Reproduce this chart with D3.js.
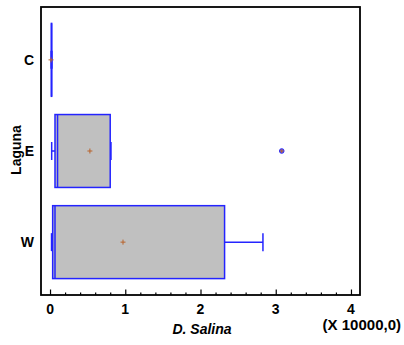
<!DOCTYPE html>
<html>
<head>
<meta charset="utf-8">
<script src="https://cdn.jsdelivr.net/npm/d3@7"></script>
<style>
  html, body { margin: 0; padding: 0; background: #fff; }
  svg { display: block; font-family: "Liberation Sans", Arial, sans-serif; }
</style>
</head>
<body>
<svg id="chart" width="404" height="345"></svg>
<script>
// Box-and-whisker summary of D. Salina counts (x 10000) per lagoon
const categories = ["C", "E", "W"];
const whiskerLow = [0.015, 0.022, 0.02];
const quartile1 = [0.018, 0.066, 0.035];
const medians = [0.02, 0.10, 0.066];
const quartile3 = [0.022, 0.80, 2.32];
const whiskerHigh = [0.025, 0.81, 2.83];
const means = [0.013, 0.53, 0.97];
const outliers = [[], [3.08], []];
const xTicks = [0, 1, 2, 3, 4];

const plot = { left: 41, right: 360, top: 7, bottom: 295 };
const blue = "#2424ff";
const meanColor = "#b8622a";

const svg = d3.select("#chart");

const x = d3.scaleLinear().domain([-0.12, 4.12]).range([plot.left, plot.right]);
const y = d3.scalePoint().domain(categories).range([plot.top, plot.bottom]).padding(0.58);
const boxH = y.step() * 0.8;
const capH = 18;

const rows = categories.map((c, i) => ({
  cat: c, lo: whiskerLow[i], q1: quartile1[i], med: medians[i],
  q3: quartile3[i], hi: whiskerHigh[i], mean: means[i], out: outliers[i]
}));

const g = svg.append("g");

// whiskers
rows.forEach(d => {
  const cy = y(d.cat);
  g.append("line").attr("x1", x(d.lo)).attr("x2", x(d.q1)).attr("y1", cy).attr("y2", cy)
    .attr("stroke", blue).attr("stroke-width", 1.5);
  g.append("line").attr("x1", x(d.q3)).attr("x2", x(d.hi)).attr("y1", cy).attr("y2", cy)
    .attr("stroke", blue).attr("stroke-width", 1.5);
  [d.lo, d.hi].forEach(v => {
    g.append("line").attr("x1", x(v)).attr("x2", x(v))
      .attr("y1", cy - capH / 2).attr("y2", cy + capH / 2)
      .attr("stroke", blue).attr("stroke-width", 1.5);
  });
});

// boxes
g.selectAll("rect.box").data(rows).join("rect")
  .attr("class", "box")
  .attr("x", d => x(d.q1))
  .attr("y", d => y(d.cat) - boxH / 2)
  .attr("width", d => Math.max(0, x(d.q3) - x(d.q1)))
  .attr("height", boxH)
  .attr("fill", "#c0c0c0")
  .attr("stroke", blue)
  .attr("stroke-width", 1.5);

// medians
g.selectAll("line.med").data(rows).join("line")
  .attr("class", "med")
  .attr("x1", d => x(d.med)).attr("x2", d => x(d.med))
  .attr("y1", d => y(d.cat) - boxH / 2).attr("y2", d => y(d.cat) + boxH / 2)
  .attr("stroke", blue).attr("stroke-width", 1.5);

// outliers
rows.forEach(d => {
  d.out.forEach(v => {
    g.append("circle").attr("cx", x(v)).attr("cy", y(d.cat)).attr("r", 2.3)
      .attr("fill", "#6060ff").attr("stroke", blue).attr("stroke-width", 1);
    g.append("path").attr("d", `M${x(v) - 2},${y(d.cat)}h4M${x(v)},${y(d.cat) - 2}v4`)
      .attr("stroke", meanColor).attr("stroke-width", 1);
  });
});

// mean markers
g.selectAll("path.mean").data(rows).join("path")
  .attr("class", "mean")
  .attr("d", d => `M${x(d.mean) - 2.5},${y(d.cat)}h5M${x(d.mean)},${y(d.cat) - 2.5}v5`)
  .attr("stroke", meanColor).attr("stroke-width", 1);

// frame
svg.append("rect")
  .attr("x", plot.left).attr("y", plot.top)
  .attr("width", plot.right - plot.left).attr("height", plot.bottom - plot.top)
  .attr("fill", "none").attr("stroke", "#000").attr("stroke-width", 1.8);

// x axis: inward ticks, major at integers, minor every 0.2
const minor = d3.range(0, 4.01, 0.2).filter(v => Math.abs(v - Math.round(v)) > 1e-6);
const xAxisMajor = d3.axisTop(x).tickValues(xTicks).tickSize(5.5).tickFormat("");
const xAxisMinor = d3.axisTop(x).tickValues(minor).tickSize(2.5).tickFormat("");
svg.append("g").attr("transform", `translate(0,${plot.bottom})`).call(xAxisMajor)
  .call(a => a.select(".domain").remove())
  .selectAll("line").attr("stroke", "#000").attr("stroke-width", 1.2);
svg.append("g").attr("transform", `translate(0,${plot.bottom})`).call(xAxisMinor)
  .call(a => a.select(".domain").remove())
  .selectAll("line").attr("stroke", "#000").attr("stroke-width", 1.2);

// x tick labels
svg.append("g").selectAll("text").data(xTicks).join("text")
  .attr("x", d => x(d)).attr("y", 314)
  .attr("text-anchor", "middle")
  .attr("font-size", 14).attr("font-weight", "bold")
  .text(d => d);

// y category labels
svg.append("g").selectAll("text").data(categories).join("text")
  .attr("x", 34).attr("y", d => y(d) + 5)
  .attr("text-anchor", "end")
  .attr("font-size", 14).attr("font-weight", "bold")
  .text(d => d);

// axis titles
svg.append("text")
  .attr("x", 202).attr("y", 334)
  .attr("text-anchor", "middle")
  .attr("font-size", 14).attr("font-weight", "bold").attr("font-style", "italic")
  .text("D. Salina");

svg.append("text")
  .attr("x", 401).attr("y", 330)
  .attr("text-anchor", "end")
  .attr("font-size", 15).attr("font-weight", "bold")
  .text("(X 10000,0)");

svg.append("text")
  .attr("transform", "translate(21,150) rotate(-90)")
  .attr("text-anchor", "middle")
  .attr("font-size", 14).attr("font-weight", "bold")
  .text("Laguna");
</script>
</body>
</html>
